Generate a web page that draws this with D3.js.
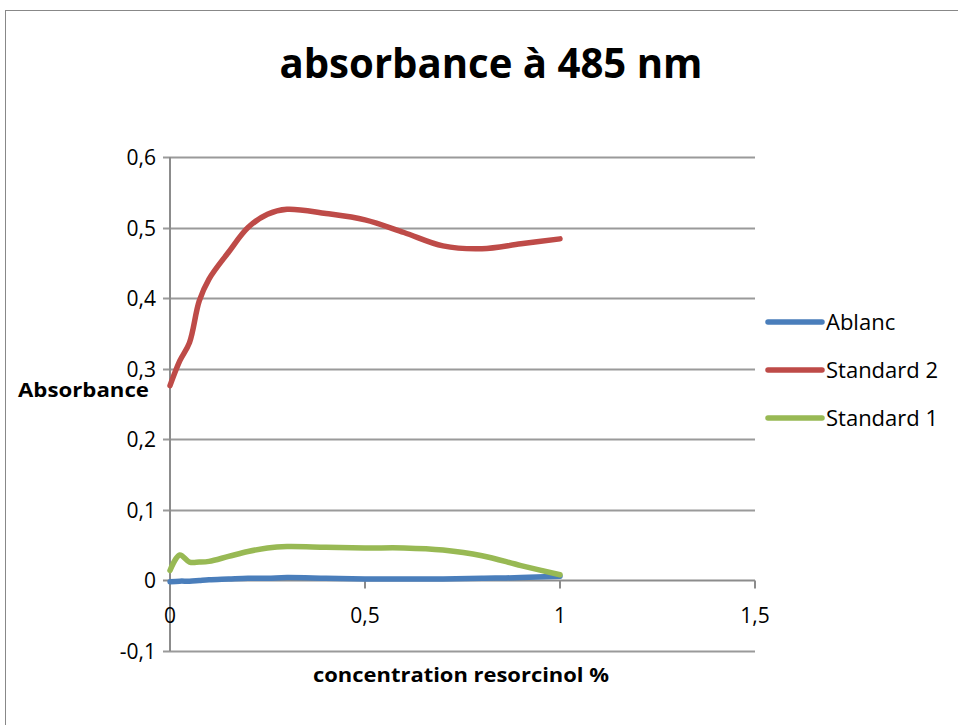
<!DOCTYPE html>
<html>
<head>
<meta charset="utf-8">
<script src="https://cdn.jsdelivr.net/npm/d3@7"></script>
<style>
  body { margin: 0; background: #fff; }
  svg { display: block; font-family: "Open Sans", "Noto Sans", sans-serif; }
</style>
</head>
<body>
<div id="chart-area"></div>
<script>
// concentration values (x) and the three series
var concentration = [0, 0.025, 0.05, 0.075, 0.1, 0.15, 0.2, 0.25, 0.3, 0.4, 0.5, 0.6, 0.7, 0.8, 0.9, 1];
var ablanc    = [-0.002, -0.001, -0.001, 0, 0.001, 0.002, 0.003, 0.003, 0.004, 0.003, 0.002, 0.002, 0.002, 0.003, 0.004, 0.006];
var standard2 = [0.276, 0.311, 0.337, 0.396, 0.427, 0.465, 0.5, 0.519, 0.526, 0.52, 0.511, 0.493, 0.474, 0.47, 0.477, 0.484];
var standard1 = [0.014, 0.036, 0.026, 0.026, 0.027, 0.034, 0.041, 0.046, 0.048, 0.047, 0.046, 0.046, 0.043, 0.035, 0.021, 0.008];

var seriesNames = ["Ablanc", "Standard 2", "Standard 1"];
var xTicks = [0, 0.5, 1, 1.5];
var yTicks = [-0.1, 0, 0.1, 0.2, 0.3, 0.4, 0.5, 0.6];

var colors = {"Ablanc": "#4a7ebb", "Standard 2": "#be4b48", "Standard 1": "#98b954"};
var values = {"Ablanc": ablanc, "Standard 2": standard2, "Standard 1": standard1};

var fmt = function(v){ return String(+v.toFixed(2)).replace(".", ","); };

var svg = d3.select("#chart-area").append("svg")
    .attr("width", 958)
    .attr("height", 725);

// chart frame
svg.append("rect")
    .attr("x", 5.5).attr("y", 10.5)
    .attr("width", 970).attr("height", 730)
    .attr("fill", "none")
    .attr("stroke", "#888")
    .attr("stroke-width", 1);

var x = d3.scaleLinear().domain([0, 1.5]).range([170, 755]);
var y = d3.scaleLinear().domain([-0.1, 0.6]).range([651, 157]);

// horizontal gridlines (extend left as tick marks)
svg.selectAll("line.grid")
    .data(yTicks)
    .enter()
    .append("line")
    .attr("class", "grid")
    .attr("x1", 163).attr("x2", 755)
    .attr("y1", function(d){ return Math.round(y(d)) + 0.5; })
    .attr("y2", function(d){ return Math.round(y(d)) + 0.5; })
    .attr("stroke", function(d){ return d === 0 ? "#8c8c8c" : "#9a9a9a"; })
    .attr("stroke-width", 2);

// vertical axis
svg.append("line")
    .attr("x1", x(0)).attr("x2", x(0))
    .attr("y1", y(0.6)).attr("y2", y(-0.1))
    .attr("stroke", "#8c8c8c").attr("stroke-width", 2);

// x ticks going down from the zero line
svg.selectAll("line.xtick")
    .data(xTicks.slice(1))
    .enter()
    .append("line")
    .attr("class", "xtick")
    .attr("x1", function(d){ return x(d); })
    .attr("x2", function(d){ return x(d); })
    .attr("y1", y(0)).attr("y2", y(0) + 8)
    .attr("stroke", "#8c8c8c").attr("stroke-width", 2);

// y tick labels
svg.selectAll("text.ylab")
    .data(yTicks)
    .enter()
    .append("text")
    .attr("class", "ylab")
    .attr("x", 156)
    .attr("y", function(d){ return y(d) + 8; })
    .attr("text-anchor", "end")
    .attr("font-size", 21)
    .text(fmt);

// x tick labels
svg.selectAll("text.xlab")
    .data(xTicks)
    .enter()
    .append("text")
    .attr("class", "xlab")
    .attr("x", function(d){ return x(d); })
    .attr("y", 623)
    .attr("text-anchor", "middle")
    .attr("font-size", 21)
    .text(fmt);

// series lines
var line = d3.line()
    .x(function(d, i){ return x(concentration[i]); })
    .y(function(d){ return y(d); })
    .curve(d3.curveCatmullRom.alpha(0.5));

svg.selectAll("path.series")
    .data(seriesNames)
    .enter()
    .append("path")
    .attr("class", "series")
    .attr("d", function(name){ return line(values[name]); })
    .attr("fill", "none")
    .attr("stroke", function(name){ return colors[name]; })
    .attr("stroke-width", 5.5)
    .attr("stroke-linecap", "round")
    .attr("stroke-linejoin", "round");

// legend
var legend = svg.selectAll("g.legend")
    .data(seriesNames)
    .enter()
    .append("g")
    .attr("class", "legend")
    .attr("transform", function(d, i){ return "translate(768," + (322 + i * 48) + ")"; });

legend.append("line")
    .attr("x1", 0).attr("x2", 54)
    .attr("stroke", function(d){ return colors[d]; })
    .attr("stroke-width", 5.5)
    .attr("stroke-linecap", "round");

legend.append("text")
    .attr("x", 58).attr("y", 8)
    .attr("font-size", 22)
    .text(function(d){ return d; });

// titles
svg.append("text")
    .attr("x", 491).attr("y", 78)
    .attr("text-anchor", "middle")
    .attr("font-size", 41)
    .attr("font-weight", "bold")
    .attr("textLength", 423)
    .attr("lengthAdjust", "spacingAndGlyphs")
    .text("absorbance à 485 nm");

svg.append("text")
    .attr("x", 18).attr("y", 397)
    .attr("font-size", 20)
    .attr("font-weight", "bold")
    .attr("textLength", 131)
    .attr("lengthAdjust", "spacingAndGlyphs")
    .text("Absorbance");

svg.append("text")
    .attr("x", 461).attr("y", 682)
    .attr("text-anchor", "middle")
    .attr("font-size", 20)
    .attr("font-weight", "bold")
    .attr("textLength", 296)
    .attr("lengthAdjust", "spacingAndGlyphs")
    .text("concentration resorcinol %");
</script>
</body>
</html>
